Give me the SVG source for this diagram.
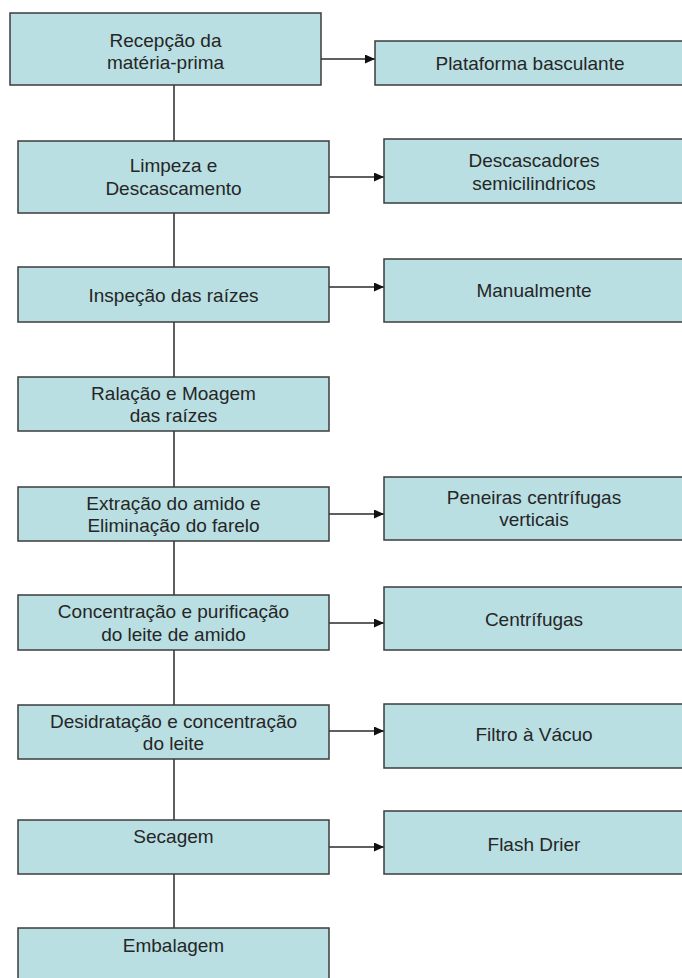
<svg xmlns="http://www.w3.org/2000/svg" width="682" height="978" viewBox="0 0 682 978">
<style>
.box{fill:#B9DFE3;stroke:#3c3c3c;stroke-width:1.5}
.t{font-family:"Liberation Sans",Arial,sans-serif;font-size:19px;fill:#262626;text-anchor:middle}
.c{stroke:#2a2a2a;stroke-width:1.5;fill:none}
.a{stroke:#2a2a2a;stroke-width:1.5;fill:none;marker-end:url(#ah)}
</style>
<defs>
<marker id="ah" markerUnits="userSpaceOnUse" markerWidth="10" markerHeight="9" refX="10" refY="4.5" orient="auto">
<path d="M0,0 L10,4.5 L0,9 z" fill="#111"/>
</marker>
</defs>
<rect width="682" height="978" fill="#fff"/>
<g id="connectors">
<line class="c" x1="174" y1="85" x2="174" y2="141"/>
<line class="c" x1="174" y1="213" x2="174" y2="267"/>
<line class="c" x1="174" y1="322" x2="174" y2="377"/>
<line class="c" x1="174" y1="431" x2="174" y2="487"/>
<line class="c" x1="174" y1="541" x2="174" y2="595"/>
<line class="c" x1="174" y1="650" x2="174" y2="705"/>
<line class="c" x1="174" y1="759" x2="174" y2="820"/>
<line class="c" x1="174" y1="874" x2="174" y2="928"/>
<line class="a" x1="321" y1="59" x2="375" y2="59"/>
<line class="a" x1="329" y1="177" x2="384" y2="177"/>
<line class="a" x1="329" y1="287" x2="384" y2="287"/>
<line class="a" x1="329" y1="514" x2="384" y2="514"/>
<line class="a" x1="329" y1="623" x2="384" y2="623"/>
<line class="a" x1="329" y1="731" x2="384" y2="731"/>
<line class="a" x1="329" y1="847" x2="384" y2="847"/>
</g>
<g id="n1"><rect class="box" x="10" y="13" width="311" height="72"/><text class="t" x="165.5" y="47">Recepção da</text><text class="t" x="165.5" y="69">matéria-prima</text></g>
<g id="p1"><rect class="box" x="375" y="41" width="320" height="44"/><text class="t" x="530" y="69.5">Plataforma basculante</text></g>
<g id="n2"><rect class="box" x="18" y="141" width="311" height="72"/><text class="t" x="173.5" y="172">Limpeza e</text><text class="t" x="173.5" y="195">Descascamento</text></g>
<g id="p2"><rect class="box" x="384" y="139" width="320" height="64"/><text class="t" x="534" y="167">Descascadores</text><text class="t" x="534" y="190">semicilindricos</text></g>
<g id="n3"><rect class="box" x="18" y="267" width="311" height="55"/><text class="t" x="173.5" y="301.5">Inspeção das raízes</text></g>
<g id="p3"><rect class="box" x="384" y="259" width="320" height="63"/><text class="t" x="534" y="297">Manualmente</text></g>
<g id="n4"><rect class="box" x="18" y="377" width="311" height="54"/><text class="t" x="173.5" y="400">Ralação e Moagem</text><text class="t" x="173.5" y="422">das raízes</text></g>
<g id="n5"><rect class="box" x="18" y="487" width="311" height="54"/><text class="t" x="173.5" y="510">Extração do amido e</text><text class="t" x="173.5" y="532">Eliminação do farelo</text></g>
<g id="p5"><rect class="box" x="384" y="477" width="320" height="63"/><text class="t" x="534" y="504">Peneiras centrífugas</text><text class="t" x="534" y="526">verticais</text></g>
<g id="n6"><rect class="box" x="18" y="595" width="311" height="55"/><text class="t" x="173.5" y="618">Concentração e purificação</text><text class="t" x="173.5" y="640.5">do leite de amido</text></g>
<g id="p6"><rect class="box" x="384" y="587" width="320" height="63"/><text class="t" x="534" y="625.5">Centrífugas</text></g>
<g id="n7"><rect class="box" x="18" y="705" width="311" height="54"/><text class="t" x="173.5" y="728">Desidratação e concentração</text><text class="t" x="173.5" y="750">do leite</text></g>
<g id="p7"><rect class="box" x="384" y="704" width="320" height="64"/><text class="t" x="534" y="741">Filtro à Vácuo</text></g>
<g id="n8"><rect class="box" x="18" y="820" width="311" height="54"/><text class="t" x="173.5" y="842.5">Secagem</text></g>
<g id="p8"><rect class="box" x="384" y="811" width="320" height="63"/><text class="t" x="534" y="850.5">Flash Drier</text></g>
<g id="n9"><rect class="box" x="18" y="928" width="311" height="56"/><text class="t" x="173.5" y="952">Embalagem</text></g>
</svg>
